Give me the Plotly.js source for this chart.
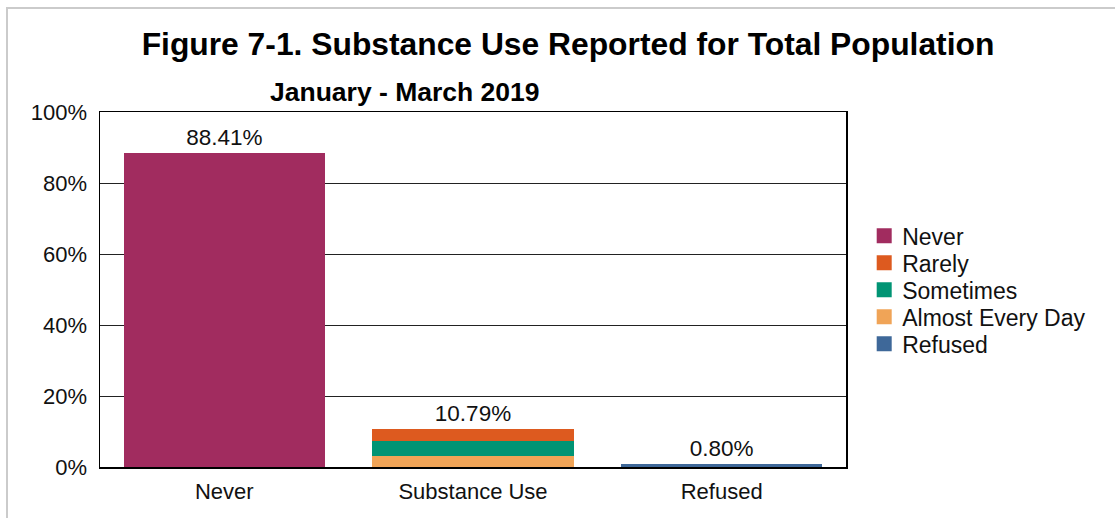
<!DOCTYPE html>
<html>
<head>
<meta charset="utf-8">
<script src="https://cdn.plot.ly/plotly-3.0.1.min.js"></script>
<style>
  html, body { margin: 0; padding: 0; background: #ffffff; overflow: hidden; }
  #frame { position: absolute; left: 6px; top: 7px; width: 1400px; height: 800px; border: 2px solid #cbcbcb; box-sizing: border-box; }
  #chart { position: absolute; left: 0; top: 0; width: 1115px; height: 518px; }
</style>
</head>
<body>
<div id="frame"></div>
<div id="chart"></div>
<script>
// ---- data ----
const categories = ["Never", "Substance Use", "Refused"];
const neverValue = 88.41;
const rarelyValue = 3.33;
const sometimesValue = 4.22;
const almostEveryDayValue = 3.24;
const refusedValue = 0.80;
const seriesNames = ["Never", "Rarely", "Sometimes", "Almost Every Day", "Refused"];
const seriesColors = ["#A12C5F", "#DD5A1F", "#019474", "#F0A457", "#3E6899"];
const yTickValues = [0, 20, 40, 60, 80, 100];
const yTickLabels = ["0%", "20%", "40%", "60%", "80%", "100%"];
const titleText = "Figure 7-1. Substance Use Reported for Total Population";
const subtitleText = "January - March 2019";

const FONT = "'Liberation Sans', Arial, sans-serif";
const fmt = v => v.toFixed(2) + "%";
const substanceTotal = rarelyValue + sometimesValue + almostEveryDayValue;

const labelFont = { family: FONT, size: 22.5, color: "#111111" };

function barTrace(name, x, y, color, rank, text) {
  const t = {
    type: "bar",
    name: name,
    x: [x],
    y: [y],
    marker: { color: color, line: { width: 0 } },
    legendrank: rank,
    hoverinfo: "skip",
    cliponaxis: false
  };
  if (text !== undefined) {
    t.text = [text];
    t.textposition = "outside";
    t.outsidetextfont = labelFont;
    t.textfont = labelFont;
  } else {
    t.textposition = "none";
  }
  return t;
}

const traces = [
  barTrace(seriesNames[0], categories[0], neverValue, seriesColors[0], 1, fmt(neverValue)),
  barTrace(seriesNames[3], categories[1], almostEveryDayValue, seriesColors[3], 4),
  barTrace(seriesNames[2], categories[1], sometimesValue, seriesColors[2], 3),
  barTrace(seriesNames[1], categories[1], rarelyValue, seriesColors[1], 2, fmt(substanceTotal)),
  barTrace(seriesNames[4], categories[2], refusedValue, seriesColors[4], 5, fmt(refusedValue))
];

const layout = {
  width: 1115,
  height: 518,
  paper_bgcolor: "rgba(0,0,0,0)",
  plot_bgcolor: "#ffffff",
  margin: { l: 100, r: 269, t: 112, b: 50.5, pad: 0 },
  barmode: "stack",
  bargap: 0.19,
  font: { family: FONT, size: 22, color: "#111111" },
  title: {
    text: titleText,
    font: { family: FONT, size: 31.8, weight: "bold", color: "#000000" },
    xref: "container", x: 568 / 1115, xanchor: "center",
    yref: "container", y: 1 - 44 / 518, yanchor: "middle"
  },
  annotations: [{
    text: subtitleText,
    showarrow: false,
    xref: "paper", x: (404.5 - 100) / 746, xanchor: "center",
    yref: "paper", y: (467.5 - 92) / 355.5, yanchor: "middle",
    font: { family: FONT, size: 26.5, weight: "bold", color: "#000000" }
  }],
  xaxis: {
    type: "category",
    categoryorder: "array",
    categoryarray: categories,
    showline: true, mirror: true, linecolor: "#000000", linewidth: 1.5,
    showgrid: false, zeroline: false,
    ticks: "", ticklabelstandoff: 4,
    tickfont: { family: FONT, size: 22, color: "#111111" },
    fixedrange: true
  },
  yaxis: {
    range: [0, 100],
    tickvals: yTickValues,
    ticktext: yTickLabels,
    showline: true, mirror: true, linecolor: "#000000", linewidth: 1.5,
    showgrid: true, gridcolor: "#222222", gridwidth: 1,
    zeroline: false,
    ticks: "", ticklabelstandoff: 7,
    tickfont: { family: FONT, size: 22, color: "#111111" },
    fixedrange: true
  },
  legend: {
    x: 1.025, xanchor: "left",
    y: 0.5, yanchor: "middle",
    traceorder: "normal",
    font: { family: FONT, size: 23, color: "#111111" },
    bgcolor: "rgba(0,0,0,0)",
    borderwidth: 0
  },
  showlegend: true
};

Plotly.newPlot("chart", traces, layout, { displayModeBar: false, staticPlot: true }).then(gd => {
  // tighten legend rows to the reference spacing and enlarge swatches
  const rowStep = 27, firstCenterY = 235.7, swatchCenterX = 884.2, textShift = -2;
  const items = Array.from(gd.querySelectorAll(".legend .traces"));
  if (!items.length) return;
  const parse = el => {
    const m = /translate\(\s*([-\d.e]+)[ ,]+([-\d.e]+)\s*\)/.exec(el.getAttribute("transform") || "");
    return m ? [parseFloat(m[1]), parseFloat(m[2])] : [0, 0];
  };
  const [x0, y0] = parse(items[0]);
  items.forEach((el, i) => {
    el.setAttribute("transform", "translate(" + x0 + "," + (y0 + i * rowStep) + ")");
    el.querySelectorAll(".legendpoints path").forEach(p => {
      const tr = p.getAttribute("transform") || "";
      p.setAttribute("transform", tr + " scale(1.25)");
    });
    const txt = el.querySelector(".legendtext");
    if (txt) txt.setAttribute("transform", "translate(" + textShift + ",0)");
  });
  const sw = items[0].querySelector(".legendpoints path");
  if (sw) {
    const r = sw.getBoundingClientRect();
    const dy = firstCenterY - (r.top + r.height / 2);
    const dx = swatchCenterX - (r.left + r.width / 2);
    items.forEach((el, i) => {
      el.setAttribute("transform", "translate(" + (x0 + dx) + "," + (y0 + dy + i * rowStep) + ")");
    });
  }
});
</script>
</body>
</html>
